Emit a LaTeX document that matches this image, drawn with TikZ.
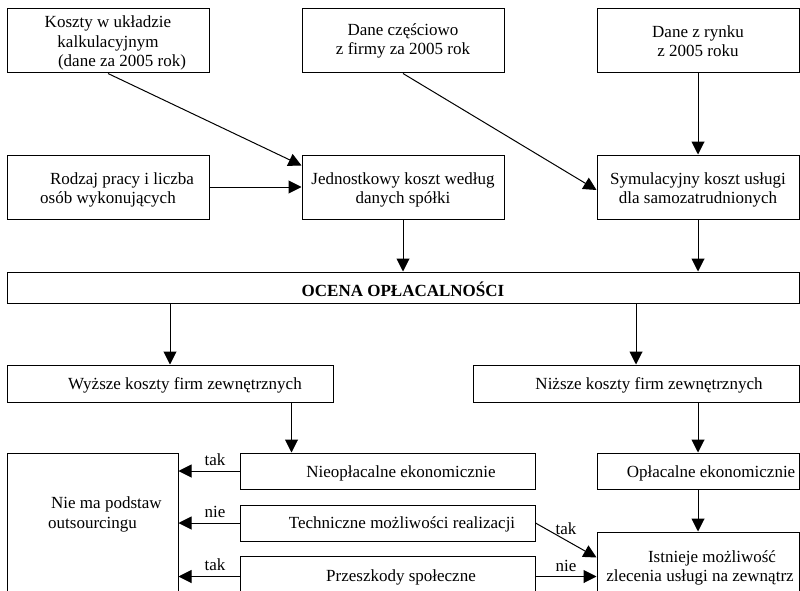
\documentclass[tikz,border=0pt]{standalone}
\usepackage{fontspec}
\setmainfont{Liberation Serif}
\usepackage{tikz}
\usetikzlibrary{positioning,arrows.meta,calc}

\tikzset{
  box/.style={draw,line width=1pt,inner sep=0pt},
  txt/.style={inner sep=0pt,align=center,font=\fontsize{17}{19.5}\selectfont},
  lab/.style={inner sep=0pt,font=\fontsize{17}{19.5}\selectfont},
  arr/.style={line width=1pt,-{Triangle[length=13pt,width=13pt]}},
}

\begin{document}
\begin{tikzpicture}[x=1pt,y=-1pt]
  \useasboundingbox (0,0) rectangle (800,591);
  \clip (0,0) rectangle (800,591);
  % frames
  \foreach \n/\x/\y/\w/\h in {
    koszty/108/41/202/64, dane/403/41/202/64, rynek/698/41/202/64,
    rodzaj/108/187/202/64, jedn/403/187/202/64, symul/698/187/202/64,
    ocena/403/287.5/792/31,
    wyzsze/170/383.5/326/37, nizsze/636/383.5/326/37,
    nieop/387.5/471/295/36, oplac/698/471/202/36,
    niema/92.5/546.5/171/187, techn/387.5/523/295/36,
    przesz/387.5/598/295/84, istn/698/586/202/108}
    {\node[box,minimum width=\w pt,minimum height=\h pt] (\n) at (\x,\y) {};}
  % texts
  \node[txt] (koszty-t) at (108,43) {Koszty w układzie\\kalkulacyjnym\\\hspace*{28pt}(dane za 2005 rok)};
  \node[txt] (dane-t) at (403,41) {Dane częściowo\\z firmy za 2005 rok};
  \node[txt] (rynek-t) at (698,41) {Dane z rynku\\z 2005 roku};
  \node[txt] (rodzaj-t) at (108,190) {\hspace*{28pt}Rodzaj pracy i liczba\\osób wykonujących};
  \node[txt] (jedn-t) at (403,190) {Jednostkowy koszt według\\danych spółki};
  \node[txt] (symul-t) at (698,190) {Symulacyjny koszt usługi\\dla samozatrudnionych};
  \node[txt,font=\fontsize{17}{19.5}\selectfont\bfseries] (ocena-t) at (403,289) {OCENA OPŁACALNOŚCI};
  \node[txt] (wyzsze-t) at (185,385) {Wyższe koszty firm zewnętrznych};
  \node[txt] (nizsze-t) at (649,385) {Niższe koszty firm zewnętrznych};
  \node[txt] (nieop-t) at (401,473) {Nieopłacalne ekonomicznie};
  \node[txt] (oplac-t) at (711,473) {Opłacalne ekonomicznie};
  \node[txt,align=left,anchor=west] (niema-t) at (48,514.5) {\hspace*{3pt}Nie ma podstaw\\outsourcingu};
  \node[txt] (techn-t) at (402,524) {Techniczne możliwości realizacji};
  \node[txt] (przesz-t) at (401,577) {Przeszkody społeczne};
  \node[txt] (istn-t) at (700,568) {\hspace*{24pt}Istnieje możliwość\\zlecenia usługi na zewnątrz};
  % arrows
  \draw[arr] (koszty.south) -- ($(jedn.north west)+(0,11)$);
  \draw[arr] (rodzaj.east) -- (jedn.west);
  \draw[arr] (dane.south) -- ($(symul.west)+(0,3)$);
  \draw[arr] (rynek.south) -- (symul.north);
  \draw[arr] (jedn.south) -- (jedn.south |- ocena.north);
  \draw[arr] (symul.south) -- (symul.south |- ocena.north);
  \draw[arr] (wyzsze.north |- ocena.south) -- (wyzsze.north);
  \draw[arr] (nizsze.north |- ocena.south) -- (nizsze.north);
  \coordinate (w1) at ($(wyzsze.south east)+(-42,0)$);
  \draw[arr] (w1) -- (w1 |- nieop.north);
  \draw[arr] (oplac.north |- nizsze.south) -- (oplac.north);
  \draw[arr] (oplac.south) -- (istn.north);
  \draw[arr] (nieop.west) -- node[lab,pos=.4,above=5pt] (l1) {tak} (nieop.west -| niema.east);
  \draw[arr] (techn.west) -- node[lab,pos=.4,above=5pt] (l2) {nie} (techn.west -| niema.east);
  \coordinate (p1) at ($(przesz.north west)+(0,21)$);
  \draw[arr] (p1) -- node[lab,pos=.4,above=5pt] (l3) {tak} (p1 -| niema.east);
  \coordinate (p2) at ($(przesz.north east)+(0,21)$);
  \draw[arr] (p2) -- node[lab,midway,above=4pt] (l4) {nie} (p2 -| istn.west);
  \draw[arr] (techn.east) -- node[lab,midway,above=5pt] (l5) {tak} ($(istn.north west)+(0,26)$);
\end{tikzpicture}
\end{document}
